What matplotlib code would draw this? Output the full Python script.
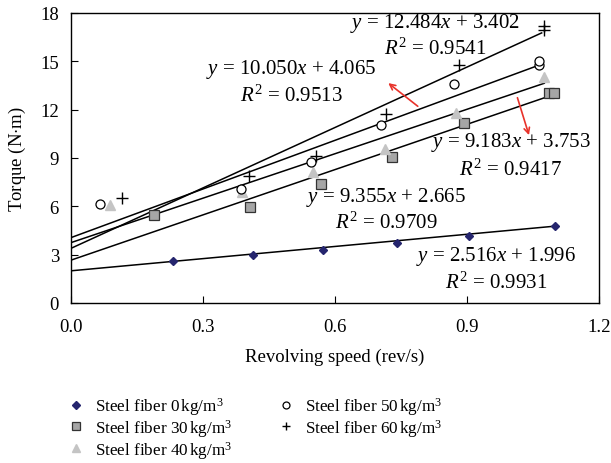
import matplotlib
matplotlib.use('Agg')
import matplotlib.pyplot as plt
from matplotlib.lines import Line2D
import numpy as np

plt.rcParams['font.family'] = 'Liberation Serif'
plt.rcParams['mathtext.fontset'] = 'custom'
plt.rcParams['mathtext.rm'] = 'Liberation Serif'
plt.rcParams['mathtext.it'] = 'Liberation Serif:italic'

# data
x0 = [0.231, 0.413, 0.572, 0.740, 0.904, 1.101]
y0 = [2.62, 2.95, 3.30, 3.75, 4.15, 4.78]
x30 = [0.188, 0.406, 0.567, 0.730, 0.894, 1.086, 1.097]
y30 = [5.46, 5.94, 7.39, 9.04, 11.19, 13.00, 13.06]
x40 = [0.088, 0.388, 0.550, 0.713, 0.875, 1.075]
y40 = [6.08, 6.86, 8.10, 9.56, 11.81, 14.04]
x50 = [0.065, 0.385, 0.546, 0.705, 0.870, 1.065, 1.065]
y50 = [6.17, 7.10, 8.77, 11.02, 13.60, 14.77, 15.04]
x60 = [0.116, 0.404, 0.557, 0.716, 0.883, 1.075, 1.075]
y60 = [6.54, 7.89, 9.14, 11.70, 14.77, 16.96, 17.17]

slopes = [2.516, 9.355, 9.183, 10.050, 12.484]
intercepts = [1.996, 2.665, 3.753, 4.065, 3.402]
r2 = ['0.9931', '0.9709', '0.9417', '0.9513', '0.9541']
line_end = [1.10, 1.10, 1.076, 1.07, 1.07]
labels = ['Steel fiber 0$\\,$kg/m$^3$', 'Steel fiber 30$\\,$kg/m$^3$',
          'Steel fiber 40$\\,$kg/m$^3$', 'Steel fiber 50$\\,$kg/m$^3$',
          'Steel fiber 60$\\,$kg/m$^3$']

fig = plt.figure(figsize=(6.11, 4.64), dpi=100)
ax = fig.add_axes([0.117, 0.345, 0.863, 0.625])

for s, b, xe in zip(slopes, intercepts, line_end):
    xx = np.array([0, xe])
    ax.plot(xx, s * xx + b, color='black', lw=1.1, zorder=2)

ax.plot(x0, y0, 'D', ms=4.5, color='#25256e', mec='#25256e', ls='none', zorder=3)
ax.plot(x30, y30, 's', ms=7, mfc='#a6a6a6', mec='#333333', mew=0.9, ls='none', zorder=3)
ax.plot(x40, y40, '^', ms=7.5, color='#c4c4c4', mec='#c4c4c4', ls='none', zorder=3)
ax.plot(x50, y50, 'o', ms=6.5, mfc='white', mec='black', mew=0.9, ls='none', zorder=3)
ax.plot(x60, y60, '+', ms=8, color='black', mew=1.0, ls='none', zorder=3)

# equations
eq_pos = [(0.966, 2.94, 1.31), (0.716, 6.63, 5.0), (1.0, 10.0, 8.31),
          (0.5, 14.56, 12.9), (0.828, 17.4, 15.8)]
for (xc, ye, yr), s, b, r in zip(eq_pos, slopes, intercepts, r2):
    ax.text(xc, ye, '$y$ = %.3f$x$ + %.3f' % (s, b), ha='center', va='center', fontsize=15)
    ax.text(xc, yr, '$R^2$ = %s' % r, ha='center', va='center', fontsize=15)

ax.annotate('', xy=(0.716, 13.75), xytext=(0.793, 12.1),
            arrowprops=dict(arrowstyle='->', color='#e8322a', lw=1.2))
ax.annotate('', xy=(1.043, 10.25), xytext=(1.013, 12.9),
            arrowprops=dict(arrowstyle='->', color='#e8322a', lw=1.2))

ax.set_xlim(0, 1.2)
ax.set_ylim(0, 18)
ax.set_xticks(np.arange(0, 1.21, 0.3))
ax.set_xticklabels(['0.0', '0.3', '0.6', '0.9', '1.2'])
ax.set_yticks(np.arange(0, 19, 3))
ax.tick_params(direction='in', labelsize=13.5, length=5)
ax.tick_params(axis='x', pad=11)
ax.tick_params(axis='y', pad=9)
ax.set_xlabel('Revolving speed (rev/s)', fontsize=13.5, labelpad=9)
ax.set_ylabel('Torque (N$\\cdot$m)', fontsize=13.5, labelpad=9)
for sp in ax.spines.values():
    sp.set_linewidth(1.0)

handles = [
    Line2D([], [], marker='D', ms=4, color='#25256e', ls='none'),
    Line2D([], [], marker='s', ms=5.5, mfc='#a6a6a6', mec='#333333', mew=0.9, ls='none'),
    Line2D([], [], marker='^', ms=5.5, color='#c4c4c4', ls='none'),
    Line2D([], [], marker='o', ms=5, mfc='white', mec='black', mew=0.9, ls='none'),
    Line2D([], [], marker='+', ms=6, color='black', mew=1.0, ls='none'),
]
fig.legend(handles, labels, loc='lower left', bbox_to_anchor=(0.082, -0.028), ncol=2,
           frameon=False, fontsize=12.3, handletextpad=0.5, columnspacing=2.6,
           labelspacing=0.0, handlelength=1.2)

fig.savefig('out.png', dpi=100)
